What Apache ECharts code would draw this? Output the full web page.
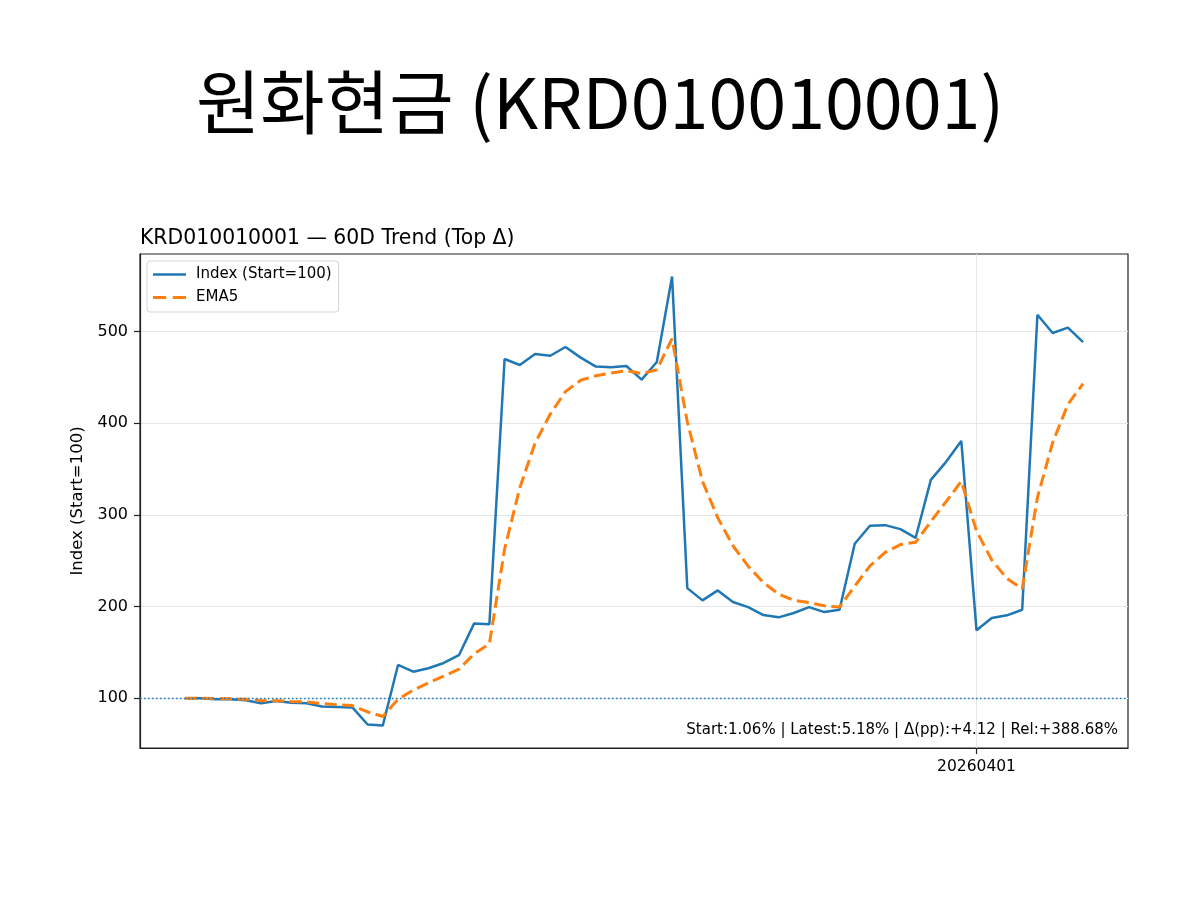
<!DOCTYPE html>
<html>
<head>
<meta charset="utf-8">
<script src="https://cdn.jsdelivr.net/npm/echarts@6/dist/echarts.min.js"></script>
<style>
  html, body { margin: 0; padding: 0; background: #fff; }
  #chart-container { width: 1200px; height: 900px; }
</style>
</head>
<body>
<div id="chart-container"></div>
<script>
// 60 trading days, index 52 = 20260401
var dates = [
  '20260119', '20260120', '20260121', '20260122', '20260123', '20260126', '20260127', '20260128', '20260129', '20260130',
  '20260202', '20260203', '20260204', '20260205', '20260206', '20260209', '20260210', '20260211', '20260212', '20260213',
  '20260216', '20260217', '20260218', '20260219', '20260220', '20260223', '20260224', '20260225', '20260226', '20260227',
  '20260302', '20260303', '20260304', '20260305', '20260306', '20260309', '20260310', '20260311', '20260312', '20260313',
  '20260316', '20260317', '20260318', '20260319', '20260320', '20260323', '20260324', '20260325', '20260326', '20260327',
  '20260330', '20260331', '20260401', '20260402', '20260403', '20260406', '20260407', '20260408', '20260409', '20260410'
];

var indexValues = [
  100, 100, 99, 99, 97.8, 94.5, 97, 95, 94.5, 91,
  90.5, 90, 71.3, 70.2, 136.3, 129, 132.7, 138.5, 147, 181.7,
  180.7, 470.2, 463.7, 475.7, 473.8, 483.3, 471.7, 461.9, 461.1, 462.6,
  447.7, 467, 560.3, 220.2, 206.8, 217.7, 205, 199.5, 190.8, 188.3,
  193, 199.5, 194, 196.6, 268.6, 288.2, 288.9, 284.6, 275.1, 338.3,
  358, 380.8, 174.1, 187.5, 190.5, 196.6, 518.5, 498.6, 504.4, 488.7
];

var emaValues = [
  100, 100, 99.7, 99.4, 98.9, 97.4, 97.3, 96.5, 95.9, 94.2,
  93, 92, 85.1, 80.1, 98.9, 108.9, 116.8, 124.1, 131.7, 148.4,
  159.2, 262.8, 329.8, 378.4, 410.2, 434.6, 447, 451.9, 455, 457.5,
  454.3, 458.5, 492.4, 401.7, 336.7, 297.1, 266.4, 244.1, 226.3, 213.7,
  206.8, 204.4, 200.9, 199.5, 222.5, 244.4, 259.2, 267.7, 270.2, 292.9,
  314.6, 336.7, 282.5, 250.8, 230.7, 219.3, 319.1, 378.9, 420.7, 443.4
];

var yTicks = [100, 200, 300, 400, 500];
var xTicks = [52];
var baseLine = 100;

var mainTitle = '원화현금 (KRD010010001)';
var subTitle = 'KRD010010001 — 60D Trend (Top Δ)';
var statsText = 'Start:1.06% | Latest:5.18% | Δ(pp):+4.12 | Rel:+388.68%';

var dom = document.getElementById('chart-container');
var myChart = echarts.init(dom, null, { renderer: 'canvas' });

var font = 'DejaVu Sans';

// legend handles: solid line and two dashes (matplotlib style)
var solidIcon = 'path://M0,0H33V2.5H0Z';
var dashIcon = 'path://M0,0H13V3H0Z M19.5,0H32.5V3H19.5Z';

var option = {
  animation: false,
  backgroundColor: '#fff',
  title: [
    {
      text: mainTitle,
      left: 'center',
      top: 62,
      textStyle: { fontFamily: 'Noto Sans CJK KR', fontSize: 70, fontWeight: 'normal', color: '#000' }
    },
    {
      text: subTitle,
      left: 135,
      top: 224,
      textStyle: { fontFamily: font, fontSize: 20.4, fontWeight: 'normal', color: '#000' }
    },
    {
      text: statsText,
      right: 77,
      top: 718,
      textStyle: { fontFamily: font, fontSize: 15, fontWeight: 'normal', color: '#000' }
    }
  ],
  legend: {
    orient: 'vertical',
    left: 147,
    top: 261,
    padding: [6, 7, 7, 6],
    itemGap: 8,
    itemWidth: 33,
    itemHeight: 14,
    backgroundColor: '#fff',
    borderColor: '#d6d6d6',
    borderWidth: 1,
    borderRadius: 3,
    textStyle: { fontFamily: font, fontSize: 15, color: '#000', padding: [0, 0, 0, 5] },
    data: [
      { name: 'Index (Start=100)', icon: solidIcon },
      { name: 'EMA5', icon: dashIcon }
    ]
  },
  grid: {
    left: 140,
    right: 72,
    top: 254,
    bottom: 152,
    show: true,
    borderColor: '#222',
    borderWidth: 1.2,
    containLabel: false
  },
  xAxis: {
    type: 'value',
    min: -2.95,
    max: 61.95,
    axisLine: { show: true, onZero: false, lineStyle: { color: '#222', width: 1.2 } },
    axisTick: { show: true, customValues: xTicks, length: 6, lineStyle: { color: '#222', width: 1.2 } },
    axisLabel: {
      customValues: xTicks,
      margin: 11,
      fontFamily: font,
      fontSize: 15.5,
      color: '#000',
      formatter: function (v) { return dates[Math.round(v)]; }
    },
    splitLine: { show: true, lineStyle: { color: '#e6e6e6', width: 1 } }
  },
  yAxis: {
    type: 'value',
    min: 45.7,
    max: 584.8,
    name: 'Index (Start=100)',
    nameLocation: 'middle',
    nameGap: 53,
    nameTextStyle: { fontFamily: font, fontSize: 16.5, color: '#000' },
    axisLine: { show: true, onZero: false, lineStyle: { color: '#222', width: 1.2 } },
    axisTick: { show: true, customValues: yTicks, length: 6, lineStyle: { color: '#222', width: 1.2 } },
    axisLabel: {
      customValues: yTicks,
      margin: 12,
      fontFamily: font,
      fontSize: 16,
      color: '#000'
    },
    splitLine: { show: true, lineStyle: { color: '#e6e6e6', width: 1 } }
  },
  series: [
    {
      name: 'Index (Start=100)',
      type: 'line',
      data: indexValues.map(function (v, i) { return [i, v]; }),
      symbol: 'none',
      color: '#1f77b4',
      lineStyle: { color: '#1f77b4', width: 2.5 },
      z: 3,
      markLine: {
        silent: true,
        symbol: 'none',
        label: { show: false },
        lineStyle: { color: '#1f77b4', width: 1.3, type: [1.5, 2.5] },
        data: [{ yAxis: baseLine }]
      }
    },
    {
      name: 'EMA5',
      type: 'line',
      data: emaValues.map(function (v, i) { return [i, v]; }),
      symbol: 'none',
      color: '#ff7f0e',
      lineStyle: { color: '#ff7f0e', width: 3, type: [12, 5.5] },
      z: 4
    }
  ]
};

myChart.setOption(option);

window.addEventListener('resize', function () {
  myChart.resize();
});
</script>
</body>
</html>
